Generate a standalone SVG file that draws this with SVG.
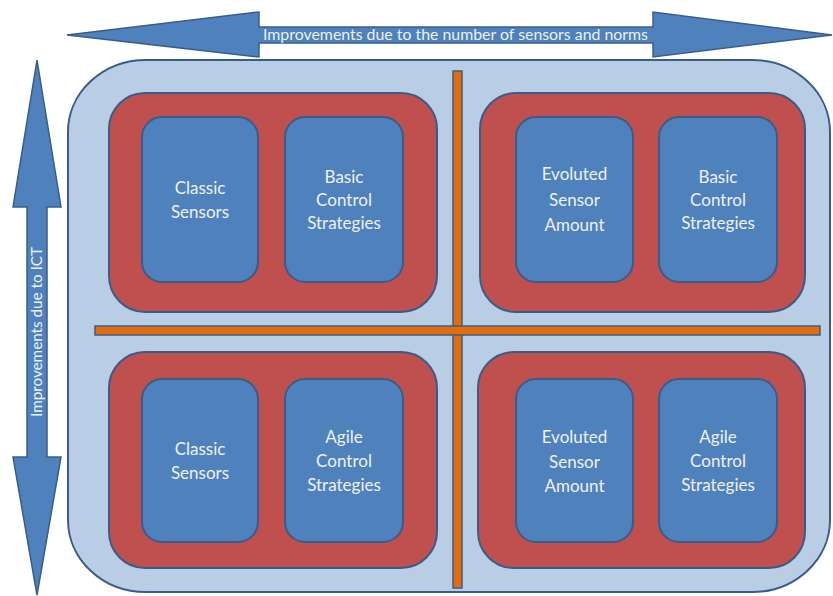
<svg xmlns="http://www.w3.org/2000/svg" width="833" height="596" viewBox="0 0 833 596">
  <style>
    .frame { fill: #b9cde5; stroke: #385d8a; stroke-width: 2; }
    .group { fill: #c0504d; stroke: #385d8a; stroke-width: 2; }
    .box { fill: #4f81bd; stroke: #385d8a; stroke-width: 2; }
    .divider { fill: #e46c0a; stroke: #385d8a; stroke-width: 1.5; }
    .arrow { fill: #4f81bd; stroke: #385d8a; stroke-width: 1.5; }
    text { font-family: Lato, "Open Sans", "Liberation Sans", sans-serif; fill: #eef1f5; }
    .lbl { font-size: 17px; text-anchor: middle; }
    .axis { font-size: 14.5px; }
  </style>

  <!-- background frame -->
  <rect class="frame" x="68" y="60" width="762" height="532" rx="78" ry="72"/>

  <!-- axis arrows -->
  <g id="axes">
    <path class="arrow" d="M67,35 L259,12 L259,27 L653,27 L653,12 L832,35 L653,57 L653,43 L259,43 L259,57 Z"/>
    <text class="axis" x="263" y="40" textLength="385" lengthAdjust="spacingAndGlyphs">Improvements due to the number of sensors and norms</text>
    <path class="arrow" d="M37,60 L61,207 L47,207 L47,457 L61,457 L37,595 L13,457 L27,457 L27,207 L13,207 Z"/>
    <text class="axis" transform="translate(42,417) rotate(-90)" x="0" y="0" textLength="170" lengthAdjust="spacingAndGlyphs">Improvements due to ICT</text>
  </g>

  <!-- quadrant dividers -->
  <g id="dividers">
    <rect class="divider" x="453" y="71" width="9" height="517"/>
    <rect class="divider" x="95" y="326" width="725" height="9"/>
    <rect x="454" y="327" width="7" height="7" fill="#e46c0a"/>
  </g>

  <!-- top-left quadrant -->
  <g id="q-top-left">
    <rect class="group" x="109" y="93" width="328" height="219" rx="36"/>
    <g id="tl-sensors">
      <rect class="box" x="142" y="117" width="116" height="165" rx="20"/>
      <text class="lbl" x="200" y="194">Classic</text>
      <text class="lbl" x="200" y="218">Sensors</text>
    </g>
    <g id="tl-control">
      <rect class="box" x="285" y="117" width="118" height="165" rx="20"/>
      <text class="lbl" x="344" y="183">Basic</text>
      <text class="lbl" x="344" y="206">Control</text>
      <text class="lbl" x="344" y="229">Strategies</text>
    </g>
  </g>

  <!-- top-right quadrant -->
  <g id="q-top-right">
    <rect class="group" x="480" y="93" width="325" height="219" rx="36"/>
    <g id="tr-sensors">
      <rect class="box" x="516" y="117" width="117" height="165" rx="20"/>
      <text class="lbl" x="574.5" y="180">Evoluted</text>
      <text class="lbl" x="574.5" y="206">Sensor</text>
      <text class="lbl" x="574.5" y="231">Amount</text>
    </g>
    <g id="tr-control">
      <rect class="box" x="659" y="117" width="118" height="165" rx="20"/>
      <text class="lbl" x="718" y="183">Basic</text>
      <text class="lbl" x="718" y="206">Control</text>
      <text class="lbl" x="718" y="229">Strategies</text>
    </g>
  </g>

  <!-- bottom-left quadrant -->
  <g id="q-bottom-left">
    <rect class="group" x="109" y="352" width="328" height="216" rx="36"/>
    <g id="bl-sensors">
      <rect class="box" x="142" y="379" width="116" height="163" rx="20"/>
      <text class="lbl" x="200" y="455">Classic</text>
      <text class="lbl" x="200" y="479">Sensors</text>
    </g>
    <g id="bl-control">
      <rect class="box" x="285" y="379" width="118" height="163" rx="20"/>
      <text class="lbl" x="344" y="443">Agile</text>
      <text class="lbl" x="344" y="467">Control</text>
      <text class="lbl" x="344" y="491">Strategies</text>
    </g>
  </g>

  <!-- bottom-right quadrant -->
  <g id="q-bottom-right">
    <rect class="group" x="478" y="352" width="327" height="216" rx="36"/>
    <g id="br-sensors">
      <rect class="box" x="516" y="379" width="117" height="163" rx="20"/>
      <text class="lbl" x="574.5" y="443">Evoluted</text>
      <text class="lbl" x="574.5" y="468">Sensor</text>
      <text class="lbl" x="574.5" y="492">Amount</text>
    </g>
    <g id="br-control">
      <rect class="box" x="659" y="379" width="118" height="163" rx="20"/>
      <text class="lbl" x="718" y="443">Agile</text>
      <text class="lbl" x="718" y="467">Control</text>
      <text class="lbl" x="718" y="491">Strategies</text>
    </g>
  </g>
</svg>
